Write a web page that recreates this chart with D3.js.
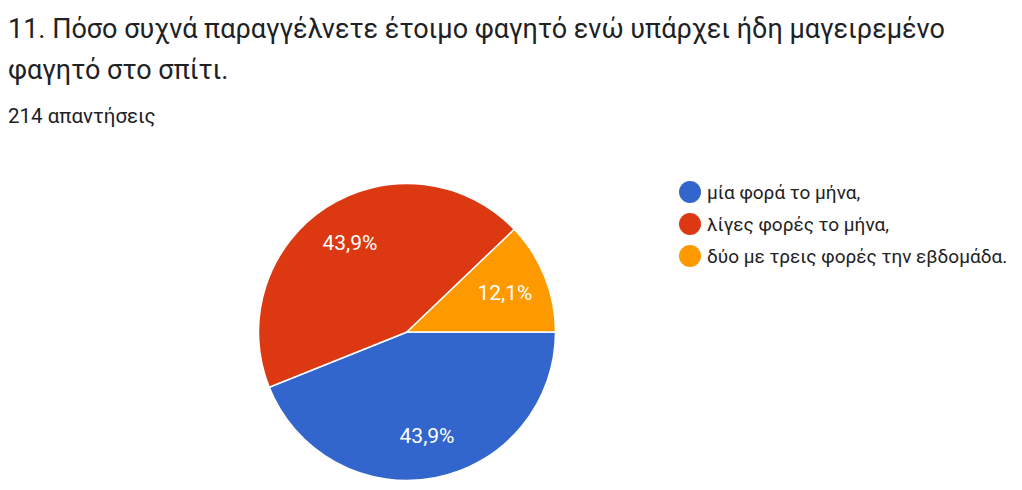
<!DOCTYPE html>
<html>
<head>
<meta charset="utf-8">
<script src="https://cdn.jsdelivr.net/npm/d3@7"></script>
<style>
  html, body { margin: 0; padding: 0; background: #fff; }
  svg { display: block; }
</style>
</head>
<body>
<svg id="chart" width="1022" height="490"></svg>
<script>
const titleLines = ["11. Πόσο συχνά παραγγέλνετε έτοιμο φαγητό ενώ υπάρχει ήδη μαγειρεμένο", "φαγητό στο σπίτι."];
const subtitle = "214 απαντήσεις";
const categories = ["μία φορά το μήνα,", "λίγες φορές το μήνα,", "δύο με τρεις φορές την εβδομάδα."];
const counts = [94, 94, 26];
const percentLabels = ["43,9%", "43,9%", "12,1%"];
const colors = ["#3366CC", "#DC3912", "#FF9900"];

const svg = d3.select("#chart");
const font = "Roboto, 'Noto Sans', Arial, sans-serif";

svg.selectAll("text.title").data(titleLines).join("text")
  .attr("class", "title")
  .attr("x", 8)
  .attr("y", (d, i) => 38 + i * 41)
  .attr("font-family", font)
  .attr("font-size", 27)
  .attr("fill", "#202124")
  .text(d => d);

svg.append("text")
  .attr("x", 8).attr("y", 123)
  .attr("font-family", font)
  .attr("font-size", 20.5)
  .attr("fill", "#202124")
  .text(subtitle);

const cx = 407, cy = 332, r = 148.5;
const color = d3.scaleOrdinal().domain(categories).range(colors);
const pie = d3.pie().sort(null).value(d => d.v)
  .startAngle(Math.PI / 2).endAngle(Math.PI / 2 + 2 * Math.PI);
const data = categories.map((c, i) => ({ c, v: counts[i], label: percentLabels[i] }));
const arcs = pie(data);
const arc = d3.arc().innerRadius(0).outerRadius(r);
const labelArc = d3.arc().innerRadius(r * 0.71).outerRadius(r * 0.71);

const g = svg.append("g").attr("transform", `translate(${cx},${cy})`);
g.selectAll("path").data(arcs).join("path")
  .attr("d", arc)
  .attr("fill", d => color(d.data.c))
  .attr("stroke", "#fff")
  .attr("stroke-width", 1.5);

g.selectAll("text").data(arcs).join("text")
  .attr("transform", d => `translate(${labelArc.centroid(d)})`)
  .attr("text-anchor", "middle")
  .attr("dominant-baseline", "central")
  .attr("font-family", font)
  .attr("font-size", 21)
  .attr("fill", "#fff")
  .text(d => d.data.label);

const legend = svg.append("g");
const items = legend.selectAll("g").data(categories).join("g")
  .attr("transform", (d, i) => `translate(690, ${192 + i * 32})`);
items.append("circle").attr("r", 11).attr("fill", d => color(d));
items.append("text")
  .attr("x", 17).attr("y", 0)
  .attr("dominant-baseline", "central")
  .attr("font-family", font)
  .attr("font-size", 19)
  .attr("fill", "#222222")
  .text(d => d);
</script>
</body>
</html>
